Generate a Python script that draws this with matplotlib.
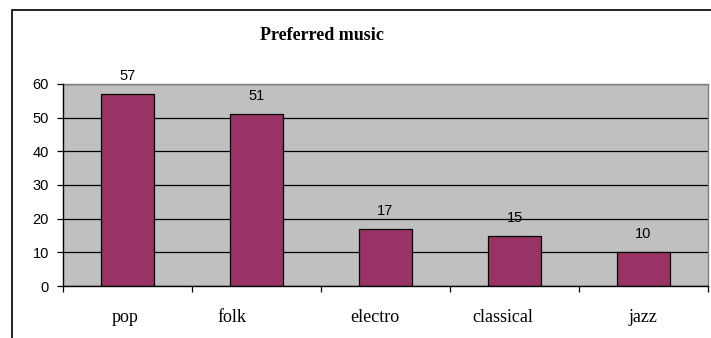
import matplotlib.pyplot as plt
from matplotlib.patches import Rectangle


# ====================================
# DATA
# ====================================

genres = ["pop", "folk", "electro", "classical", "jazz"]

votes = [57, 51, 17, 15, 10]

# small horizontal shift of each category label (in category units)
label_shift = [-0.02, -0.19, -0.08, -0.09, 0.0]

y_ticks = [0, 10, 20, 30, 40, 50, 60]


# ====================================
# FIGURE
# ====================================

fig = plt.figure(
    figsize=(7.11, 3.38),
    dpi=100
)

# outer chart border (cut off at right / bottom like the original)
fig.add_artist(
    Rectangle(
        (12 / 711, -0.2),
        1.2,
        0.2 + 1 - 10 / 338,
        transform=fig.transFigure,
        fill=False,
        edgecolor="black",
        linewidth=1.2
    )
)

ax = fig.add_axes([63 / 711, 1 - 286 / 338, 645 / 711, 202 / 338])

ax.set_facecolor("#C0C0C0")

x = range(len(genres))

ax.bar(
    x,
    votes,
    width=0.41,
    color="#993366",
    edgecolor="black",
    linewidth=0.9,
    zorder=3
)

# Value labels

for i, v in zip(x, votes):

    ax.annotate(
        str(v),
        (i, v),
        xytext=(0, 10),
        textcoords="offset points",
        ha="center",
        va="baseline",
        fontsize=10.5,
        family="Liberation Sans",
        zorder=4
    )

# Category labels

for i, (name, dx) in enumerate(zip(genres, label_shift)):

    ax.text(
        i + dx,
        -0.178,
        name,
        transform=ax.get_xaxis_transform(),
        ha="center",
        va="baseline",
        fontsize=13,
        family="Liberation Serif"
    )

ax.set_xlim(-0.5, len(genres) - 0.5)
ax.set_ylim(0, 60)

ax.set_xticks([])
ax.set_xticks(
    [i - 0.5 for i in range(len(genres) + 1)],
    minor=True
)
ax.tick_params(
    axis="x",
    which="minor",
    direction="out",
    length=4,
    width=0.9,
    color="black"
)

ax.set_yticks(y_ticks)
ax.set_yticklabels(
    [str(t) for t in y_ticks],
    fontsize=10.5,
    family="Liberation Sans"
)
ax.tick_params(
    axis="y",
    direction="out",
    length=4,
    width=0.9,
    pad=6,
    color="black"
)

ax.grid(
    axis="y",
    color="black",
    linewidth=0.9,
    zorder=1
)
ax.set_axisbelow(True)

for side in ["top", "right"]:
    ax.spines[side].set_color("#808080")
    ax.spines[side].set_linewidth(1.0)

for side in ["left", "bottom"]:
    ax.spines[side].set_color("black")
    ax.spines[side].set_linewidth(1.0)
    ax.spines[side].set_zorder(5)

# Title

fig.text(
    322 / 711,
    1 - 39.5 / 338,
    "Preferred music",
    ha="center",
    va="baseline",
    fontsize=13,
    weight="bold",
    family="Liberation Serif"
)

plt.savefig(
    "out.png",
    dpi=100
)
